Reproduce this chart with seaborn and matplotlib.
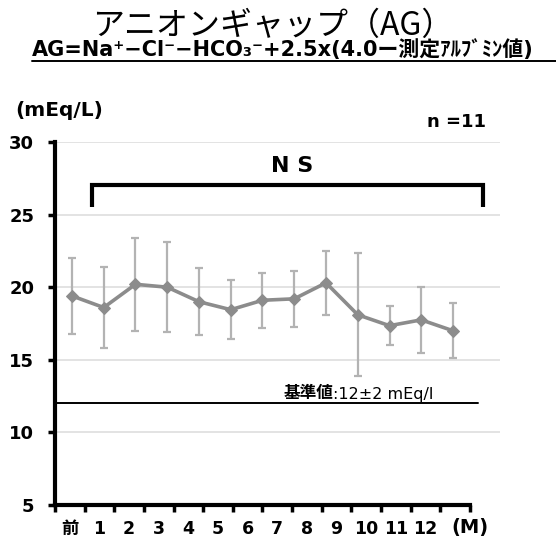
import numpy as np
import pandas as pd
import matplotlib
matplotlib.use("Agg")
import matplotlib.pyplot as plt
from matplotlib.lines import Line2D
import seaborn as sns

# ---- data ----
categories = ["前", "1", "2", "3", "4", "5", "6", "7", "8", "9", "10", "11", "12"]
ag_mean = [19.4, 18.6, 20.2, 20.0, 19.0, 18.45, 19.1, 19.2, 20.3, 18.1, 17.35, 17.75, 17.0]
ag_sd = [2.6, 2.8, 3.2, 3.1, 2.3, 2.05, 1.9, 1.95, 2.2, 4.25, 1.35, 2.25, 1.9]
y_ticks = [5, 10, 15, 20, 25, 30]
reference_value = 12
title_text = "アニオンギャップ（AG）"
subtitle_text = "AG=Na⁺−Cl⁻−HCO₃⁻+2.5x(4.0ー測定ｱﾙﾌﾞﾐﾝ値)"

sns.set_theme(style="white")
LATIN = ["DejaVu Sans", "Noto Sans CJK JP"]
CJK = ["Noto Sans CJK JP", "DejaVu Sans"]
plt.rcParams["font.family"] = LATIN
plt.rcParams["text.color"] = "black"
plt.rcParams["xtick.color"] = "black"
plt.rcParams["ytick.color"] = "black"
plt.rcParams["xtick.labelcolor"] = "black"
plt.rcParams["ytick.labelcolor"] = "black"

df = pd.DataFrame({"x": np.arange(len(categories)), "ag": ag_mean, "sd": ag_sd})

W, H = 556, 541
fig = plt.figure(figsize=(W / 100, H / 100), dpi=100)
ax = fig.add_axes([55 / W, 1 - 505 / H, 445 / W, 363 / H])

x_left, x_right = -0.535, 13.48
ax.set_xlim(x_left, x_right)
ax.set_ylim(5, 30)

# grid
for yv in y_ticks[1:]:
    ax.axhline(yv, color="#dedede", lw=1.2, zorder=0)

# error bars
ax.errorbar(df["x"], df["ag"], yerr=df["sd"], fmt="none", ecolor="#b3b3b3",
            elinewidth=1.6, capsize=3, capthick=1.6, zorder=2)
# mean line
sns.lineplot(data=df, x="x", y="ag", ax=ax, color="#8c8c8c", lw=2.6,
             marker="D", markersize=6, markeredgecolor="#8c8c8c", zorder=3)

# reference line
ax.axhline(reference_value, xmin=0, xmax=(478 - 55) / 445, color="black", lw=1.4, zorder=1)
t1 = ax.text(6.65, reference_value + 0.1, "基準値", fontsize=12, fontweight="bold",
             va="bottom", ha="left", family=CJK)
ax.annotate(":12±2 mEq/l", xy=(1, 0), xycoords=t1, va="bottom", ha="left", fontsize=11.5)

# NS bracket
bx0, bx1 = 0.63, 12.94
ax.plot([bx0, bx0, bx1, bx1], [25.55, 27.05, 27.05, 25.55], color="black", lw=3,
        solid_capstyle="butt", solid_joinstyle="miter", zorder=4)
ax.text(6.93, 28.35, "N S", fontsize=16, fontweight="bold", ha="center", va="center")

# spines
for s in ["top", "right"]:
    ax.spines[s].set_visible(False)
ax.spines["left"].set_linewidth(3)
ax.spines["left"].set_color("black")
ax.spines["bottom"].set_linewidth(3)
ax.spines["bottom"].set_color("black")
bound_lo, bound_hi = x_left, 12.535
ax.spines["bottom"].set_bounds(bound_lo, bound_hi)

# y ticks
ax.set_yticks(y_ticks)
ax.set_yticklabels([str(v) for v in y_ticks], fontsize=13, fontweight="bold")
ax.tick_params(axis="y", direction="out", length=5, width=2.5, color="black", pad=10, left=True)

# x ticks: marks on slot boundaries, labels at slot centres
bounds = np.linspace(bound_lo, bound_hi, 15)
step = bounds[1] - bounds[0]
centres = bounds[:-1] + step / 2
ax.set_xticks(bounds, minor=False)
ax.set_xticklabels([""] * len(bounds))
ax.set_xticks(centres[:len(categories)], minor=True)
ax.set_xticklabels(categories, minor=True, fontsize=12.5, fontweight="bold")
ax.tick_params(axis="x", which="major", direction="out", length=5, width=2.5, color="black", bottom=True)
ax.tick_params(axis="x", which="minor", length=0, pad=11, bottom=True)
ax.set_xlabel("")
ax.set_ylabel("")
ax.text(centres[13] + 0.45, -0.062, "(M)", transform=ax.get_xaxis_transform(),
        fontsize=14, fontweight="bold", ha="center", va="center")

# annotations outside axes
ax.text((486 - 55) / 445, 1 + (142 - 122) / 363, "n =11", transform=ax.transAxes,
        fontsize=13, fontweight="bold", ha="right", va="center")
fig.text(15 / W, 1 - 110 / H, "(mEq/L)", fontsize=14.5, fontweight="bold", ha="left", va="center")

fig.text(273 / W, 1 - 26 / H, title_text, fontsize=23, ha="center", va="center", family=CJK)
fig.text(32 / W, 1 - 50 / H, subtitle_text, fontsize=15, fontweight="bold", ha="left", va="center")
fig.add_artist(Line2D([32 / W, 1.0], [1 - 61 / H, 1 - 61 / H], color="black", lw=1.4,
                      transform=fig.transFigure))

fig.savefig("out.png", dpi=100)
